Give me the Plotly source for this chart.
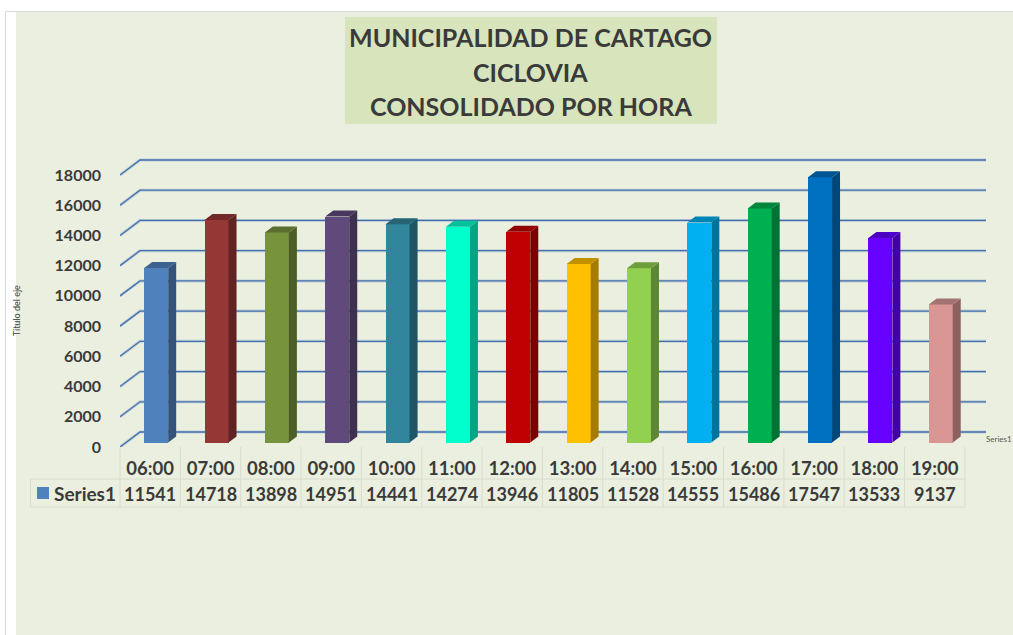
import plotly.graph_objects as go

hours = ["06:00","07:00","08:00","09:00","10:00","11:00","12:00","13:00","14:00","15:00","16:00","17:00","18:00","19:00"]
values = [11541,14718,13898,14951,14441,14274,13946,11805,11528,14555,15486,17547,13533,9137]
front_colors = ["#4F81BD","#953735","#77933C","#604A7B","#31859C","#00FFCC","#C00000","#FFC000","#92D050","#00B0F0","#00B050","#0070C0","#6600FF","#D99694"]
y_ticks = list(range(0, 18001, 2000))
series_name = "Series1"
title_lines = ["MUNICIPALIDAD DE CARTAGO", "CICLOVIA", "CONSOLIDADO POR HORA"]

W, H = 1013, 635
L, R, T, B = 120, 986, 150, 447
CAT = 60.35
UNIT = 18000 / 272.0
DX = 20 / CAT
DY = 15 * UNIT
BAR_W = 24 / CAT
D_FRONT, D_BACK = 0.3, 0.7
TEXT = "#3A3A3A"
FONT = "Lato"
GRID = "#4470B0"
TABLE = "#D8DCCE"


def shade(col, f):
    return "#%02X%02X%02X" % tuple(int(int(col[i:i+2], 16) * f) for i in (1, 3, 5))


def px(x):
    return (x - L) / (R - L)


def py(y):
    return (B - y) / (B - T)


shapes = [
    dict(type="rect", xref="paper", yref="paper", x0=px(16), x1=px(W), y0=py(H), y1=py(12), fillcolor="#EAEFDF", line_width=0, layer="below"),
    dict(type="line", xref="paper", yref="paper", x0=px(5.5), x1=px(W), y0=py(11.5), y1=py(11.5), line=dict(color="#D9D9D9", width=1), layer="below"),
    dict(type="line", xref="paper", yref="paper", x0=px(5.5), x1=px(5.5), y0=py(H), y1=py(11.5), line=dict(color="#D9D9D9", width=1), layer="below"),
    dict(type="rect", xref="paper", yref="paper", x0=px(345), x1=px(717), y0=py(124), y1=py(17), fillcolor="#D7E4BC", line_width=0, layer="below"),
]

x_left = -0.5
x_right = x_left + (R - L) / CAT

# Gridlines on the back wall and the left wall of the 3D box
for v in y_ticks:
    for halo, width in (("rgba(68,112,176,0.25)", 3), (GRID, 1.3)):
        shapes.append(dict(type="path", xref="x", yref="y", layer="below",
                           path=f"M {x_left},{v} L {x_left + DX},{v + DY} L {x_right},{v + DY}",
                           line=dict(color=halo, width=width)))

# Data table
col_edges = [L + CAT * k for k in range(len(hours) + 1)]
for xe in col_edges:
    shapes.append(dict(type="line", xref="paper", yref="paper", x0=px(xe), x1=px(xe), y0=py(447), y1=py(507), line=dict(color=TABLE, width=1)))
shapes.append(dict(type="line", xref="paper", yref="paper", x0=px(30.5), x1=px(30.5), y0=py(479), y1=py(507), line=dict(color=TABLE, width=1)))
for ye in (479, 507):
    shapes.append(dict(type="line", xref="paper", yref="paper", x0=px(30.5), x1=px(col_edges[-1]), y0=py(ye), y1=py(ye), line=dict(color=TABLE, width=1)))
shapes.append(dict(type="rect", xref="paper", yref="paper", x0=px(37), x1=px(49), y0=py(499), y1=py(487), fillcolor="#4F81BD", line_width=0))

positions = list(range(len(hours)))
fig = go.Figure()
fig.add_trace(go.Bar(
    x=positions, y=values, base=[D_FRONT * DY] * len(values),
    width=BAR_W, offset=D_FRONT * DX - BAR_W / 2,
    marker=dict(color=front_colors, line=dict(width=0)),
    name=series_name, showlegend=False,
))

for i, (v, c) in enumerate(zip(values, front_colors)):
    xf0 = i + D_FRONT * DX - BAR_W / 2
    xf1 = xf0 + BAR_W
    d = (D_BACK - D_FRONT)
    b0 = D_FRONT * DY
    top = v + b0
    # right side face
    fig.add_trace(go.Scatter(
        x=[xf1, xf1 + d * DX, xf1 + d * DX, xf1, xf1],
        y=[b0, b0 + d * DY, top + d * DY, top, b0],
        mode="lines", fill="toself", fillcolor=shade(c, 0.65), line=dict(width=0, color=shade(c, 0.65)),
        hoverinfo="skip", showlegend=False))
    # top face
    fig.add_trace(go.Scatter(
        x=[xf0, xf1, xf1 + d * DX, xf0 + d * DX, xf0],
        y=[top, top, top + d * DY, top + d * DY, top],
        mode="lines", fill="toself", fillcolor=shade(c, 0.76), line=dict(width=0, color=shade(c, 0.76)),
        hoverinfo="skip", showlegend=False))

annotations = []
for line, yc in zip(title_lines, (36.5, 71.5, 106)):
    annotations.append(dict(x=px(530.5), xref="paper", y=py(yc), yref="paper", text=line, showarrow=False,
                            xanchor="center", yanchor="middle", font=dict(family=FONT, size=25, color=TEXT, weight="bold")))
for i, v in enumerate(values):
    annotations.append(dict(x=i, xref="x", y=py(493.5), yref="paper", text=str(v), showarrow=False,
                            xanchor="center", yanchor="middle", font=dict(family=FONT, size=18, color=TEXT, weight="bold")))
annotations += [
    dict(x=px(52), xref="paper", y=py(493.5), yref="paper", text=series_name, showarrow=False, xanchor="left", yanchor="middle",
         font=dict(family=FONT, size=19, color=TEXT, weight="bold")),
    dict(x=px(984), xref="paper", y=py(439), yref="paper", text=series_name, showarrow=False, xanchor="left", yanchor="middle",
         font=dict(family=FONT, size=8, color="#595959")),
    dict(x=px(16), xref="paper", y=py(311), yref="paper", text="Título del eje", showarrow=False, textangle=-90,
         xanchor="center", yanchor="middle", font=dict(family=FONT, size=9, color="#404040")),
]

fig.update_layout(
    width=W, height=H, autosize=False,
    margin=dict(l=L, r=W - R, t=T, b=H - B, pad=0),
    paper_bgcolor="white", plot_bgcolor="rgba(0,0,0,0)",
    showlegend=False, bargap=0, shapes=shapes, annotations=annotations,
    xaxis=dict(range=[x_left, x_right], tickmode="array", tickvals=positions, ticktext=hours,
               showgrid=False, zeroline=False, showline=False, ticks="", ticklabelstandoff=8,
               tickfont=dict(family=FONT, size=18.5, color=TEXT, weight="bold")),
    yaxis=dict(range=[0, (B - T) * UNIT], tickmode="array", tickvals=y_ticks, ticktext=[str(v) for v in y_ticks],
               showgrid=False, zeroline=False, showline=False, ticks="", ticklabelstandoff=18,
               tickfont=dict(family=FONT, size=16, color=TEXT, weight="bold")),
)

fig.write_html("out.html", config={"displayModeBar": False},
               post_script="document.body.style.margin='0';document.body.style.overflow='hidden';")
